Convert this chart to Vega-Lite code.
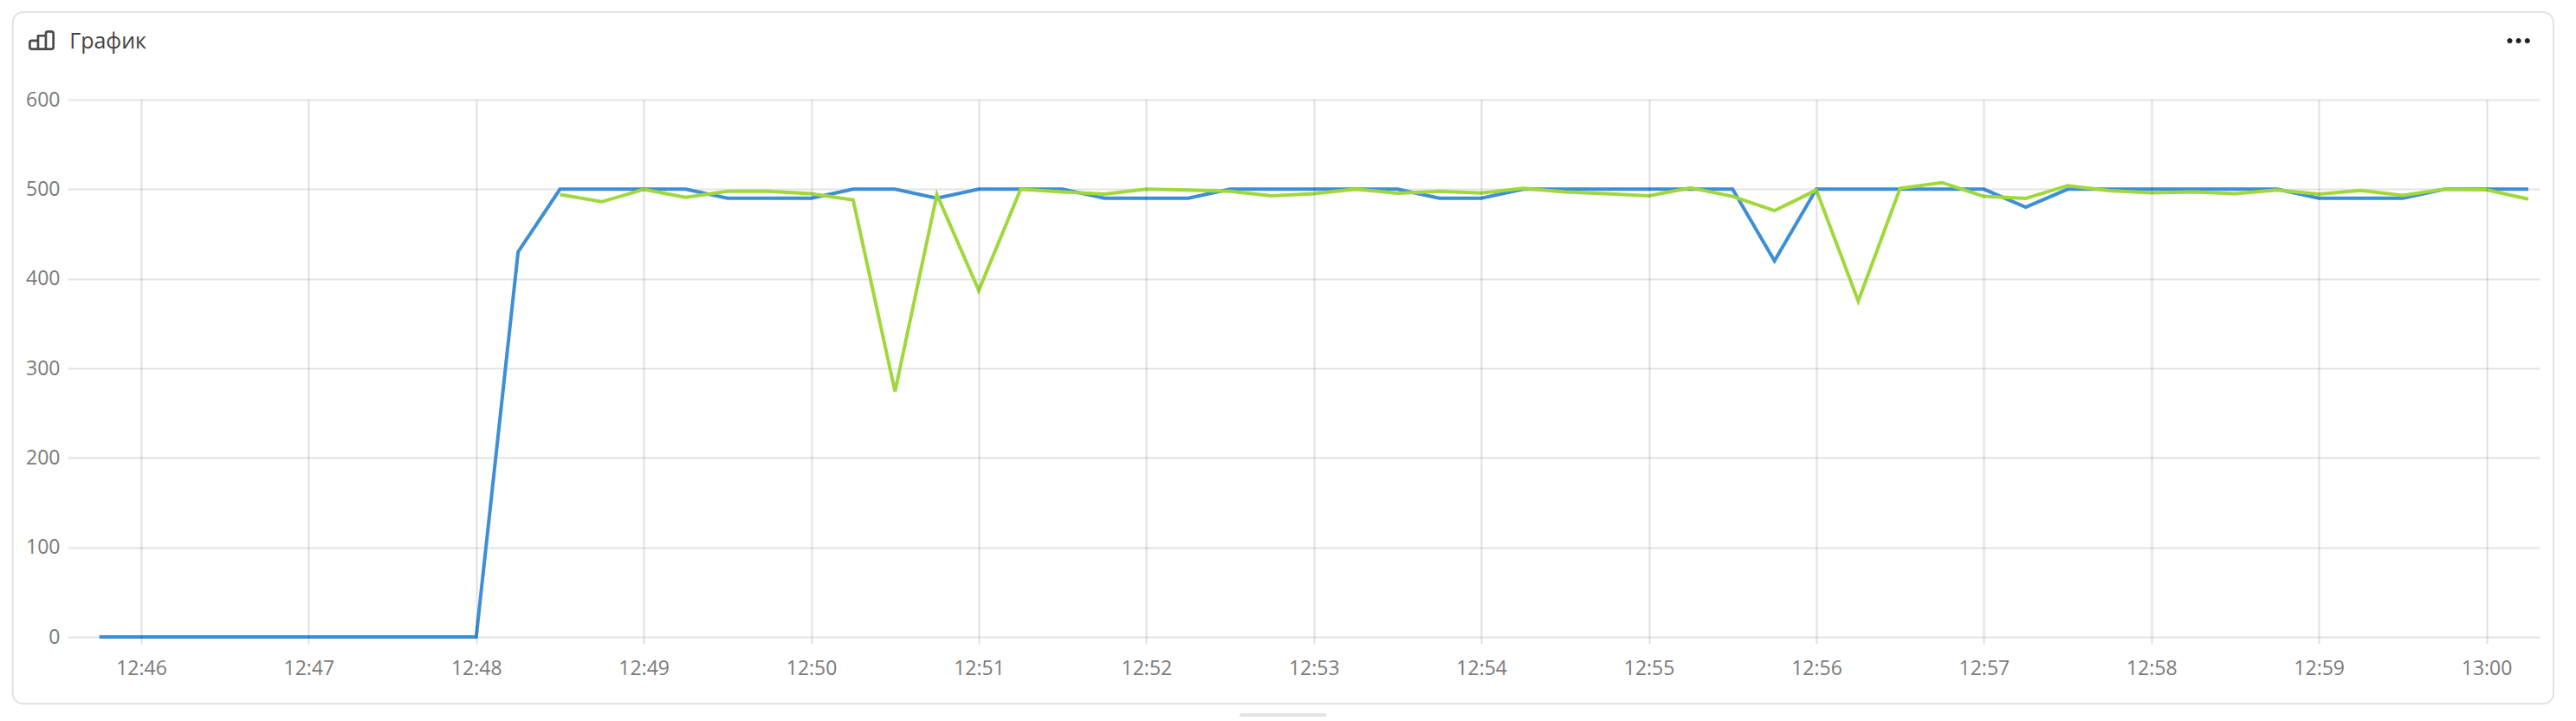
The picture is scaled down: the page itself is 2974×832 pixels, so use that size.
{
"$schema":"https://vega.github.io/schema/vega-lite/v6.json",
"autosize":{"type":"none"},
"padding":{"left":78,"top":115,"right":42,"bottom":97},
"width":2854,"height":620,
"background":"#ffffff",
"config":{"view":{"stroke":null}},
"datasets":{"series":[
{"s":"a","t":"12:45:45","v":0},{"s":"a","t":"12:46:00","v":0},{"s":"a","t":"12:46:15","v":0},{"s":"a","t":"12:46:30","v":0},{"s":"a","t":"12:46:45","v":0},{"s":"a","t":"12:47:00","v":0},{"s":"a","t":"12:47:15","v":0},{"s":"a","t":"12:47:30","v":0},{"s":"a","t":"12:47:45","v":0},{"s":"a","t":"12:48:00","v":0},
{"s":"a","t":"12:48:15","v":430},{"s":"a","t":"12:48:30","v":500},{"s":"a","t":"12:48:45","v":500},{"s":"a","t":"12:49:00","v":500},{"s":"a","t":"12:49:15","v":500},{"s":"a","t":"12:49:30","v":490},{"s":"a","t":"12:49:45","v":490},{"s":"a","t":"12:50:00","v":490},{"s":"a","t":"12:50:15","v":500},{"s":"a","t":"12:50:30","v":500},{"s":"a","t":"12:50:45","v":490},{"s":"a","t":"12:51:00","v":500},{"s":"a","t":"12:51:15","v":500},{"s":"a","t":"12:51:30","v":500},{"s":"a","t":"12:51:45","v":490},{"s":"a","t":"12:52:00","v":490},{"s":"a","t":"12:52:15","v":490},{"s":"a","t":"12:52:30","v":500},{"s":"a","t":"12:52:45","v":500},{"s":"a","t":"12:53:00","v":500},{"s":"a","t":"12:53:15","v":500},{"s":"a","t":"12:53:30","v":500},{"s":"a","t":"12:53:45","v":490},{"s":"a","t":"12:54:00","v":490},{"s":"a","t":"12:54:15","v":500},{"s":"a","t":"12:54:30","v":500},{"s":"a","t":"12:54:45","v":500},{"s":"a","t":"12:55:00","v":500},{"s":"a","t":"12:55:15","v":500},{"s":"a","t":"12:55:30","v":500},{"s":"a","t":"12:55:45","v":420},{"s":"a","t":"12:56:00","v":500},{"s":"a","t":"12:56:15","v":500},{"s":"a","t":"12:56:30","v":500},{"s":"a","t":"12:56:45","v":500},{"s":"a","t":"12:57:00","v":500},{"s":"a","t":"12:57:15","v":480},{"s":"a","t":"12:57:30","v":500},{"s":"a","t":"12:57:45","v":500},{"s":"a","t":"12:58:00","v":500},{"s":"a","t":"12:58:15","v":500},{"s":"a","t":"12:58:30","v":500},{"s":"a","t":"12:58:45","v":500},{"s":"a","t":"12:59:00","v":490},{"s":"a","t":"12:59:15","v":490},{"s":"a","t":"12:59:30","v":490},{"s":"a","t":"12:59:45","v":500},{"s":"a","t":"13:00:00","v":500},{"s":"a","t":"13:00:15","v":500},
{"s":"b","t":"12:48:30","v":494},{"s":"b","t":"12:48:45","v":486},{"s":"b","t":"12:49:00","v":499.7},{"s":"b","t":"12:49:15","v":491},{"s":"b","t":"12:49:30","v":497.7},{"s":"b","t":"12:49:45","v":497.7},{"s":"b","t":"12:50:00","v":495},{"s":"b","t":"12:50:15","v":488},{"s":"b","t":"12:50:30","v":274},{"s":"b","t":"12:50:45","v":494},{"s":"b","t":"12:51:00","v":387},{"s":"b","t":"12:51:15","v":500},{"s":"b","t":"12:51:30","v":497},{"s":"b","t":"12:51:45","v":494.5},{"s":"b","t":"12:52:00","v":500},{"s":"b","t":"12:52:15","v":499},{"s":"b","t":"12:52:30","v":497.7},{"s":"b","t":"12:52:45","v":492.6},{"s":"b","t":"12:53:00","v":495},{"s":"b","t":"12:53:15","v":500},{"s":"b","t":"12:53:30","v":495.5},{"s":"b","t":"12:53:45","v":497.7},{"s":"b","t":"12:54:00","v":495.8},{"s":"b","t":"12:54:15","v":501},{"s":"b","t":"12:54:30","v":497},{"s":"b","t":"12:54:45","v":495},{"s":"b","t":"12:55:00","v":492.6},{"s":"b","t":"12:55:15","v":501.6},{"s":"b","t":"12:55:30","v":492},{"s":"b","t":"12:55:45","v":476},{"s":"b","t":"12:56:00","v":499},{"s":"b","t":"12:56:15","v":375},{"s":"b","t":"12:56:30","v":501},{"s":"b","t":"12:56:45","v":507.4},{"s":"b","t":"12:57:00","v":492},{"s":"b","t":"12:57:15","v":489.7},{"s":"b","t":"12:57:30","v":504},{"s":"b","t":"12:57:45","v":498.4},{"s":"b","t":"12:58:00","v":496},{"s":"b","t":"12:58:15","v":497},{"s":"b","t":"12:58:30","v":495},{"s":"b","t":"12:58:45","v":499},{"s":"b","t":"12:59:00","v":494.5},{"s":"b","t":"12:59:15","v":498.7},{"s":"b","t":"12:59:30","v":493},{"s":"b","t":"12:59:45","v":500},{"s":"b","t":"13:00:00","v":499.4},{"s":"b","t":"13:00:15","v":489}
],"one":[{"item":"decor"}]},
"layer":[
{"data":{"name":"one"},
 "transform":[{"calculate":"datetime('2024-01-01T12:45:14Z')","as":"x0"},{"calculate":"datetime('2024-01-01T13:00:24Z')","as":"x1"},{"calculate":"697.7","as":"y0"},{"calculate":"-74.5","as":"y1"}],
 "mark":{"type":"rect","filled":false,"stroke":"#e3e3e3","strokeWidth":2,"cornerRadius":12,"clip":false},
 "encoding":{
  "x":{"field":"x0","type":"temporal","title":null,"scale":{"type":"utc"}},
  "x2":{"field":"x1"},
  "y":{"field":"y0","type":"quantitative","title":null},
  "y2":{"field":"y1"}}},
{"data":{"name":"series"},
 "transform":[{"calculate":"datetime('2024-01-01T'+datum.t+'Z')","as":"time"}],
 "mark":{"type":"line","strokeWidth":4,"strokeJoin":"miter","strokeCap":"butt"},
 "encoding":{
  "x":{"field":"time","type":"temporal",
   "scale":{"type":"utc","domain":[{"year":2024,"month":1,"date":1,"hours":12,"minutes":45,"seconds":33,"milliseconds":630,"utc":true},{"year":2024,"month":1,"date":1,"hours":13,"minutes":0,"seconds":19,"milliseconds":50,"utc":true}],"nice":false},
   "axis":{"title":null,"format":"%H:%M","tickCount":"minute","grid":true,"gridColor":"#000000","gridOpacity":0.12,"gridWidth":2,"ticks":true,"tickColor":"#000000","tickOpacity":0.12,"tickWidth":2,"tickSize":8,"domain":false,"labelFont":"Open Sans","labelFontSize":23,"labelColor":"#7a7a7a","labelPadding":17,"labelFlush":false,"zindex":1}},
  "y":{"field":"v","type":"quantitative",
   "scale":{"domain":[0,600],"nice":false,"zero":false},
   "axis":{"title":null,"values":[0,100,200,300,400,500,600],"grid":true,"gridColor":"#e3e3e3","gridWidth":2,"ticks":false,"domain":false,"labelFont":"Open Sans","labelFontSize":23,"labelColor":"#7a7a7a","labelPadding":9,"zindex":0}},
  "color":{"field":"s","type":"nominal","legend":null,"scale":{"domain":["a","b"],"range":["#3d8fd5","#a0d83c"]}},
  "order":{"field":"time"}}},
{"data":{"name":"one"},
 "transform":[{"calculate":"datetime('2024-01-01T12:45:24.320Z')","as":"x0"},{"calculate":"666.3","as":"y0"}],
 "mark":{"type":"point","filled":false,"shape":"M-.75,.68 H.75 Q.91,.68 .91,.52 V-.52 Q.91,-.68 .7,-.68 H.5 Q.33,-.68 .33,-.52 V.68 M.33,-.35 H-.27 V.68 M-.27,.03 H-.75 Q-.91,.03 -.91,.2 V.52 Q-.91,.68 -.75,.68","size":900,"stroke":"#4a4a4a","strokeWidth":2.7,"opacity":1,"clip":false},
 "encoding":{
  "x":{"field":"x0","type":"temporal","scale":{"type":"utc"},"title":null},
  "y":{"field":"y0","type":"quantitative","title":null}}},
{"data":{"name":"one"},
 "transform":[{"calculate":"datetime('2024-01-01T13:00:11.500Z')","as":"x0"},{"calculate":"665.8","as":"y0"}],
 "mark":{"type":"point","filled":true,"shape":"M-1.3,0a.3,.3 0 1,0 .6,0a.3,.3 0 1,0 -.6,0Z M-.3,0a.3,.3 0 1,0 .6,0a.3,.3 0 1,0 -.6,0Z M.7,0a.3,.3 0 1,0 .6,0a.3,.3 0 1,0 -.6,0Z","size":412,"fill":"#222222","opacity":1,"clip":false},
 "encoding":{
  "x":{"field":"x0","type":"temporal","scale":{"type":"utc"},"title":null},
  "y":{"field":"y0","type":"quantitative","title":null}}},
{"data":{"name":"one"},
 "transform":[{"calculate":"datetime('2024-01-01T12:45:34.300Z')","as":"x0"},{"calculate":"657.1","as":"y0"}],
 "mark":{"type":"text","text":"График","align":"left","baseline":"alphabetic","font":"Open Sans","fontSize":25,"color":"#444444","clip":false},
 "encoding":{
  "x":{"field":"x0","type":"temporal","scale":{"type":"utc"},"title":null},
  "y":{"field":"y0","type":"quantitative","title":null}}},
{"data":{"name":"one"},
 "transform":[{"calculate":"datetime('2024-01-01T12:52:34Z')","as":"x0"},{"calculate":"datetime('2024-01-01T12:53:04Z')","as":"x1"},{"calculate":"-87.1","as":"y0"}],
 "mark":{"type":"rule","stroke":"#e3e3e3","strokeWidth":4,"strokeCap":"round","clip":false},
 "encoding":{
  "x":{"field":"x0","type":"temporal","scale":{"type":"utc"},"title":null},
  "x2":{"field":"x1"},
  "y":{"field":"y0","type":"quantitative","title":null}}}
]
}
